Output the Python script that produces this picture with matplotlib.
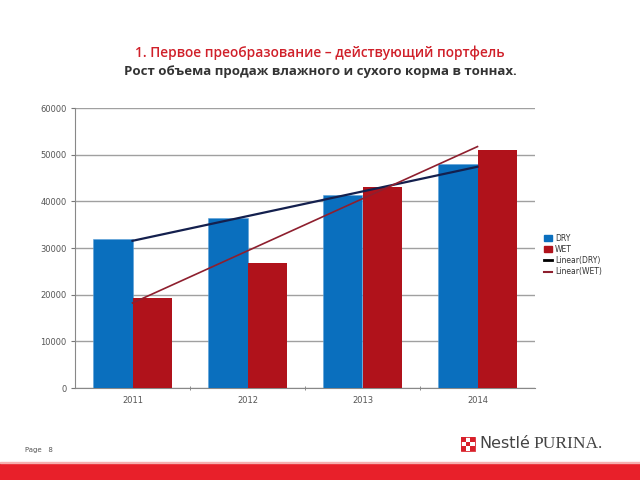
import numpy as np
import matplotlib
matplotlib.use("Agg")
import matplotlib.pyplot as plt
from matplotlib.patches import Rectangle
from matplotlib.lines import Line2D

years = ["2011", "2012", "2013", "2014"]
dry = [32000, 36500, 41400, 48000]
wet = [19200, 26700, 43000, 51000]
yticks = [0, 10000, 20000, 30000, 40000, 50000, 60000]

c_dry = "#0A6FBE"
c_wet = "#B0121B"
c_ldry = "#14204E"
c_lwet = "#8E1F2E"

fig = plt.figure(figsize=(6.4, 4.8), dpi=100)
ax = fig.add_axes([75/640, 1-388/480, 460/640, 280/480])

x = np.arange(len(years))
w = 0.34
ax.bar(x - w/2, dry, w, color=c_dry, edgecolor="#5aa0d8", linewidth=0.4, zorder=3, label="DRY")
ax.bar(x + w/2, wet, w, color=c_wet, zorder=3, label="WET")

pd_ = np.polyfit(x, dry, 1)
pw_ = np.polyfit(x, wet, 1)
ax.plot(x, np.polyval(pd_, x), color=c_ldry, lw=1.6, zorder=4, label="Linear(DRY)")
ax.plot(x, np.polyval(pw_, x), color=c_lwet, lw=1.2, zorder=4, label="Linear(WET)")

ax.set_xlim(-0.5, 3.5)
ax.set_ylim(0, 60000)
ax.set_yticks(yticks)
ax.set_yticklabels([str(v) for v in yticks])
ax.set_xticks(x)
ax.set_xticklabels(years)
ax.set_xticks([0.5, 1.5, 2.5], minor=True)
ax.tick_params(axis="x", which="major", length=0, pad=6, labelsize=6, labelcolor="#555555")
ax.tick_params(axis="x", which="minor", length=3, color="#777777", direction="inout")
ax.tick_params(axis="y", length=3, color="#777777", labelsize=6, labelcolor="#555555", pad=3)
ax.yaxis.grid(True, color="#a0a0a0", lw=1.0, zorder=0)
for s in ["top", "right"]:
    ax.spines[s].set_visible(False)
ax.spines["left"].set_color("#888888")
ax.spines["bottom"].set_color("#888888")

handles = [Rectangle((0, 0), 1, 1, color=c_dry), Rectangle((0, 0), 1, 1, color=c_wet),
           Line2D([0], [0], color="black", lw=2), Line2D([0], [0], color=c_lwet, lw=1.5)]
leg = fig.legend(handles, ["DRY", "WET", "Linear(DRY)", "Linear(WET)"],
                 loc="center left", bbox_to_anchor=(541/640, 1-255/480), frameon=False,
                 fontsize=5.5, handlelength=1.0, handleheight=0.8, handletextpad=0.4,
                 labelspacing=0.3, borderaxespad=0)
for t in leg.get_texts():
    t.set_color("#333333")

fig.text(0.5, 1-53/480, "1. Первое преобразование – действующий портфель", ha="center", va="center",
         color="#D0202A", fontsize=9.9, fontweight="semibold", family="Open Sans")
fig.text(0.5, 1-72/480, "Рост объема продаж влажного и сухого корма в тоннах.", ha="center", va="center",
         color="#333333", fontsize=9.5, fontweight="bold", family="Open Sans")

fig.text(25/640, 1-450/480, "Page   8", ha="left", va="center", fontsize=5, color="#555555")

# bottom red band
fig.patches.append(Rectangle((0, 0), 1, 17/480, transform=fig.transFigure, color="#E8202A", zorder=1))
fig.patches.append(Rectangle((0, 17/480), 1, 1.5/480, transform=fig.transFigure, color="#F6B0B0", zorder=1))

# logo
lx, ly, s = 461, 437, 14
for i in range(3):
    for j in range(3):
        col = "#D8202A" if (i + j) % 2 == 0 else "white"
        fig.patches.append(Rectangle(((lx + i*s/3)/640, 1-(ly + (j+1)*s/3)/480), (s/3)/640, (s/3)/480,
                                     transform=fig.transFigure, facecolor=col, edgecolor="none"))
fig.patches.append(Rectangle((lx/640, 1-(ly+s)/480), s/640, s/480, transform=fig.transFigure,
                             facecolor="none", edgecolor="#D8202A", lw=0.6))
fig.text(479/640, 1-444/480, "Nestlé", ha="left", va="center", fontsize=11.5, color="#444444", family="DejaVu Sans")
fig.text(533/640, 1-444/480, "PURINA.", ha="left", va="center", fontsize=12.5, color="#444444", family="Liberation Serif")

fig.savefig("out.png", dpi=100)
